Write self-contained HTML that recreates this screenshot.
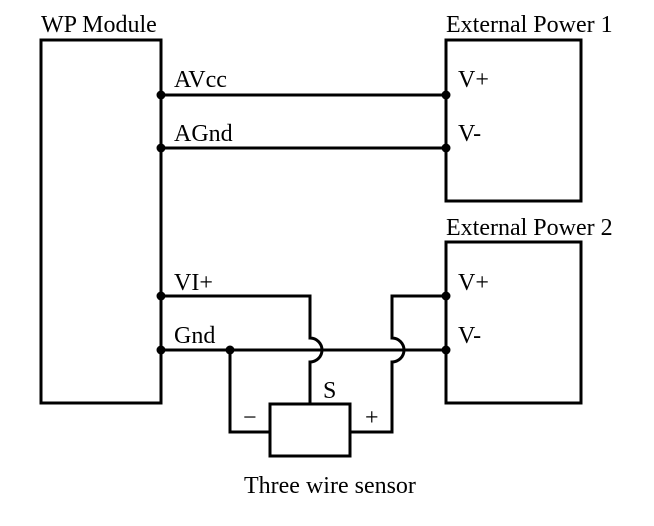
<!DOCTYPE html>
<html><head><meta charset="utf-8"><style>body{margin:0;background:#fff}svg{display:block}</style></head>
<body>
<svg width="654" height="526" viewBox="0 0 654 526" xmlns="http://www.w3.org/2000/svg">
<g fill="none" stroke="#000" stroke-width="3">
<rect x="41" y="40" width="120" height="363"/>
<rect x="446" y="40" width="135" height="161"/>
<rect x="446" y="242" width="135" height="161"/>
<line x1="161" y1="95" x2="446" y2="95"/>
<line x1="161" y1="148" x2="446" y2="148"/>
<path d="M161 296 H310 V338 A12 12 0 0 1 310 362 V404"/>
<path d="M446 296 H392 V338 A12 12 0 0 1 392 362 V432 H350"/>
<line x1="161" y1="350" x2="446" y2="350"/>
<path d="M230 350 V432 H270"/>
<rect x="270" y="404" width="80" height="52"/>
</g>
<g fill="#000">
<circle cx="161" cy="95" r="4.5"/><circle cx="161" cy="148" r="4.5"/>
<circle cx="161" cy="296" r="4.5"/><circle cx="161" cy="350" r="4.5"/>
<circle cx="446" cy="95" r="4.5"/><circle cx="446" cy="148" r="4.5"/>
<circle cx="446" cy="296" r="4.5"/><circle cx="446" cy="350" r="4.5"/>
<circle cx="230" cy="350" r="4.5"/>
</g>
<g font-family="Liberation Serif, serif" font-size="24" fill="#000">
<text x="41" y="32">WP Module</text>
<text x="446" y="32">External Power 1</text>
<text x="446" y="235">External Power 2</text>
<text x="174" y="87">AVcc</text>
<text x="174" y="141">AGnd</text>
<text x="174" y="290">VI+</text>
<text x="174" y="343">Gnd</text>
<text x="458" y="87">V+</text>
<text x="458" y="141">V-</text>
<text x="458" y="290">V+</text>
<text x="458" y="343">V-</text>
<text x="323" y="398">S</text>
<text x="243" y="425">−</text>
<text x="365" y="425">+</text>
<text x="244" y="493">Three wire sensor</text>
</g>
</svg>
</body></html>
